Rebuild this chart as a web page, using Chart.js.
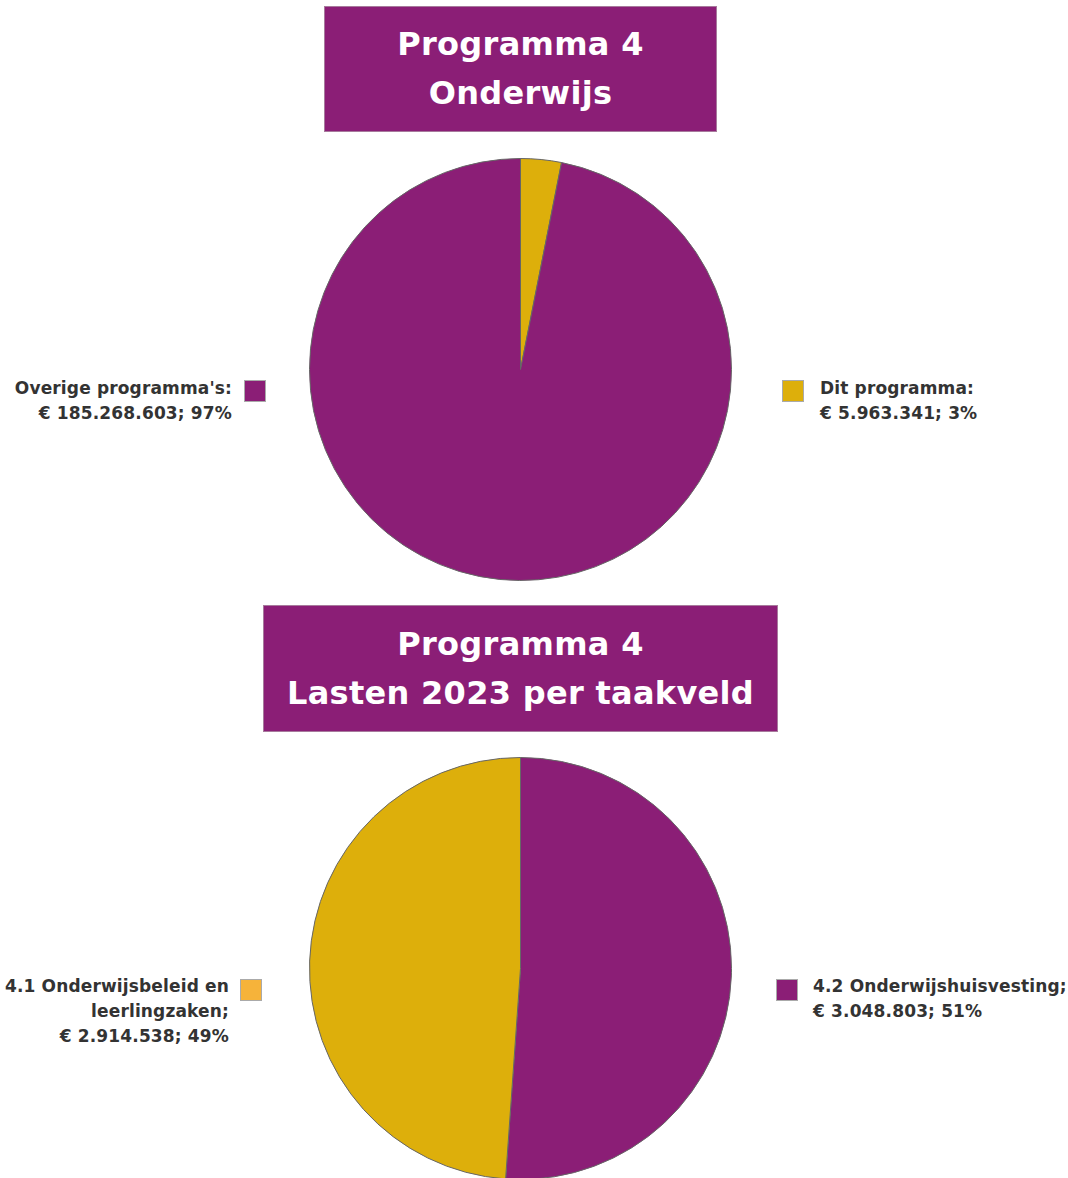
<!DOCTYPE html>
<html><head><meta charset="utf-8">
<script src="https://cdn.jsdelivr.net/npm/chart.js@4/dist/chart.umd.min.js"></script>
<style>
html,body{margin:0;padding:0;background:#fff;width:1068px;height:1178px;overflow:hidden;position:relative;font-family:"DejaVu Sans",sans-serif;}
.title{position:absolute;background:#8B1E76;color:#fff;font-weight:700;font-size:32px;line-height:49px;letter-spacing:0.3px;text-align:center;box-sizing:border-box;display:flex;flex-direction:column;justify-content:center;outline:1px solid #a77a9c;}
.cv{position:absolute;}
.leg{position:absolute;font-weight:700;font-size:17px;line-height:25px;letter-spacing:0.15px;color:#333;white-space:nowrap;}
.sw{position:absolute;width:22px;height:22px;box-sizing:border-box;border:1px solid #aaa;}
</style></head><body>
<div class="title" id="t1" style="left:325px;top:7px;width:391px;height:124px;"></div>
<div class="title" id="t2" style="left:264px;top:606px;width:513px;height:125px;"></div>
<div class="cv" style="left:309px;top:158px;width:423px;height:423px;"><canvas id="c1"></canvas></div>
<div class="cv" style="left:309px;top:757px;width:423px;height:423px;"><canvas id="c2"></canvas></div>
<div id="legs"></div>
<script>
const titles1 = ["Programma 4", "Onderwijs"];
const titles2 = ["Programma 4", "Lasten 2023 per taakveld"];

const labels1 = ["Dit programma:", "Overige programma's:"];
const values1 = [5963341, 185268603];
const pct1 = ["3%", "97%"];
const colors1 = ["#DDAF0B", "#8B1E76"];
const swatch1 = ["#DDAF0B", "#8B1E76"];

const labels2 = ["4.2 Onderwijshuisvesting;", "4.1 Onderwijsbeleid en<br>leerlingzaken;"];
const values2 = [3048803, 2914538];
const pct2 = ["51%", "49%"];
const colors2 = ["#8B1E76", "#DDAF0B"];
const swatch2 = ["#8B1E76", "#F6B33A"];

document.getElementById('t1').innerHTML = titles1.map(t=>'<div>'+t+'</div>').join('');
document.getElementById('t2').innerHTML = titles2.map(t=>'<div>'+t+'</div>').join('');

function fmt(v){ return '€ ' + v.toString().replace(/\B(?=(\d{3})+(?!\d))/g,'.'); }

const legs = document.getElementById('legs');
function addLeg(html, side, x, y, sx, sy, col){
  const d = document.createElement('div');
  d.className='leg';
  d.innerHTML = html;
  if(side==='right'){ d.style.right=(1068-x)+'px'; d.style.textAlign='right'; }
  else { d.style.left=x+'px'; }
  d.style.top=y+'px';
  legs.appendChild(d);
  const s = document.createElement('div');
  s.className='sw'; s.style.left=sx+'px'; s.style.top=sy+'px'; s.style.background=col;
  legs.appendChild(s);
}
addLeg(labels1[0]+'<br>'+fmt(values1[0])+'; '+pct1[0], 'left', 820, 376, 782, 380, swatch1[0]);
addLeg(labels1[1]+'<br>'+fmt(values1[1])+'; '+pct1[1], 'right', 232, 376, 244, 380, swatch1[1]);
addLeg(labels2[0]+'<br>'+fmt(values2[0])+'; '+pct2[0], 'left', 813, 974, 776, 979, swatch2[0]);
addLeg(labels2[1]+'<br>'+fmt(values2[1])+'; '+pct2[1], 'right', 229, 974, 240, 979, swatch2[1]);

function pie(id, labels, values, colors){
  new Chart(document.getElementById(id), {
    type:'pie',
    data:{labels:labels, datasets:[{data:values, backgroundColor:colors, borderColor:'#666', borderWidth:1}]},
    options:{responsive:true, maintainAspectRatio:false, animation:false, layout:{padding:0},
      plugins:{legend:{display:false}, tooltip:{enabled:false}}}
  });
}
pie('c1', labels1, values1, colors1);
pie('c2', labels2, values2, colors2);
</script>
</body></html>
